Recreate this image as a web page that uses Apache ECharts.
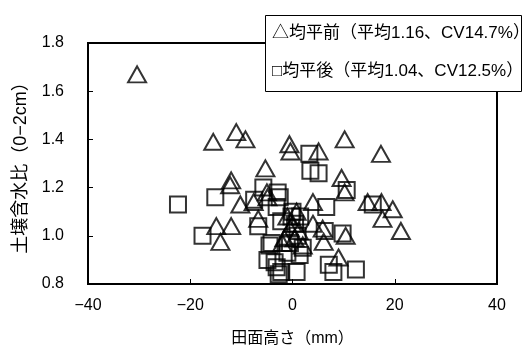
<!DOCTYPE html>
<html><head><meta charset="utf-8">
<script src="https://cdn.jsdelivr.net/npm/echarts@6/dist/echarts.min.js"></script>
<style>html,body{margin:0;padding:0;background:#fff}#c{width:524px;height:349px}</style>
</head><body><div id="c"></div>
<script>
const xTicks = [-40, -20, 0, 20, 40];
const yTicks = [0.8, 1.0, 1.2, 1.4, 1.6, 1.8];
const seriesNames = ['△均平前（平均1.16、CV14.7%）', '□均平後（平均1.04、CV12.5%）'];
const beforeX = [-30.4,-15.5,-11,-9.2,-0.6,-0.4,-5.3,-12,-12.2,10.2,5.1,17.3,9.6,10.2,14.7,17.4,19.6,17.6,21.2,4,4,5.9,6.1,10.4,9,-10.2,-7.6,-14.9,-12,-14.1,-6.7,-2,-5,-4.9,-1,0,0.4,-1.6,0.8,1.2,-0.5,2];
const beforeY = [1.67,1.39,1.43,1.40,1.38,1.35,1.28,1.23,1.21,1.40,1.35,1.34,1.24,1.18,1.14,1.14,1.11,1.07,1.02,1.14,1.05,1.03,0.975,1.0,0.91,1.13,1.14,1.04,1.04,0.975,1.07,0.97,1.18,1.16,1.08,1.05,0.99,0.99,1.10,1.02,1.03,0.96];
const afterX = [-22.4,-15.1,-17.6,3.3,3.5,5.1,10.6,15.7,6.6,6.3,9.8,7.1,8,12.4,0.8,1.4,-2.2,-6.7,-4.5,-4.9,-3.1,-2.7,-5.7,-2.9,-7.5,-3.1,-4.1,-2.5,-0.2,-2.2,-3.5,1,0.5,2,-1,0,1.5,-0.5];
const afterY = [1.13,1.16,1.0,1.34,1.27,1.26,1.19,1.13,1.12,1.02,1.01,0.88,0.85,0.86,0.85,0.92,0.85,1.04,0.96,0.90,0.87,0.84,1.20,1.18,1.15,1.12,0.97,1.16,1.08,1.06,0.89,1.0,1.05,0.95,0.93,1.10,1.08,0.97];

const FONT = '"Liberation Sans","Noto Sans CJK JP",sans-serif';
const chart = echarts.init(document.getElementById('c'), null, {renderer: 'canvas'});
chart.setOption({
  animation: false,
  backgroundColor: '#fff',
  grid: {left: 88, right: 27, top: 43, bottom: 65, containLabel: false, outerBoundsMode: 'none',
         show: true, borderColor: '#000', borderWidth: 2, backgroundColor: 'transparent'},
  graphic: [{type: 'rect', z: 50, zlevel: 0, shape: {x: 265.5, y: 15.5, width: 256, height: 76},
             style: {fill: '#fff', stroke: '#000', lineWidth: 1}}],
  legend: {
    orient: 'vertical', left: 265, top: 15, icon: 'none', itemWidth: 0, itemHeight: 18, itemGap: 21,
    z: 60, padding: [9, 4, 10, 2],
    textStyle: {fontFamily: FONT, fontSize: 17, color: '#000'},
    data: seriesNames, selectedMode: false
  },
  xAxis: {
    type: 'value', min: xTicks[0], max: xTicks[xTicks.length-1], interval: 20,
    name: '田面高さ（mm）', nameLocation: 'middle', nameGap: 47,
    nameTextStyle: {fontFamily: FONT, fontSize: 16, color: '#000'},
    axisLine: {show: true, onZero: false, lineStyle: {color: '#000', width: 2}},
    axisTick: {show: true, inside: true, length: 5, lineStyle: {color: '#000', width: 1}},
    axisLabel: {fontFamily: FONT, fontSize: 16, color: '#000', margin: 14, formatter: v => String(v).replace('-', '−')},
    splitLine: {show: false}
  },
  yAxis: {
    type: 'value', min: yTicks[0], max: yTicks[yTicks.length-1], interval: 0.2,
    name: '土壌含水比（0−2cm）', nameLocation: 'middle', nameGap: 58,
    nameTextStyle: {fontFamily: FONT, fontSize: 18, color: '#000'},
    axisLine: {show: true, onZero: false, lineStyle: {color: '#000', width: 2}},
    axisTick: {show: true, inside: true, length: 5, lineStyle: {color: '#000', width: 1}},
    axisLabel: {fontFamily: FONT, fontSize: 16, color: '#000', margin: 24, formatter: v => v.toFixed(1)},
    splitLine: {show: false}
  },
  series: [
    {name: seriesNames[0], type: 'scatter', symbol: 'triangle', symbolSize: [18, 16],
     itemStyle: {color: 'rgba(0,0,0,0)', borderColor: '#000', borderWidth: 2},
     data: beforeX.map((x, i) => [x, beforeY[i]])},
    {name: seriesNames[1], type: 'scatter', symbol: 'rect', symbolSize: 16,
     itemStyle: {color: 'rgba(0,0,0,0)', borderColor: '#000', borderWidth: 2},
     data: afterX.map((x, i) => [x, afterY[i]])}
  ]
});
</script></body></html>
